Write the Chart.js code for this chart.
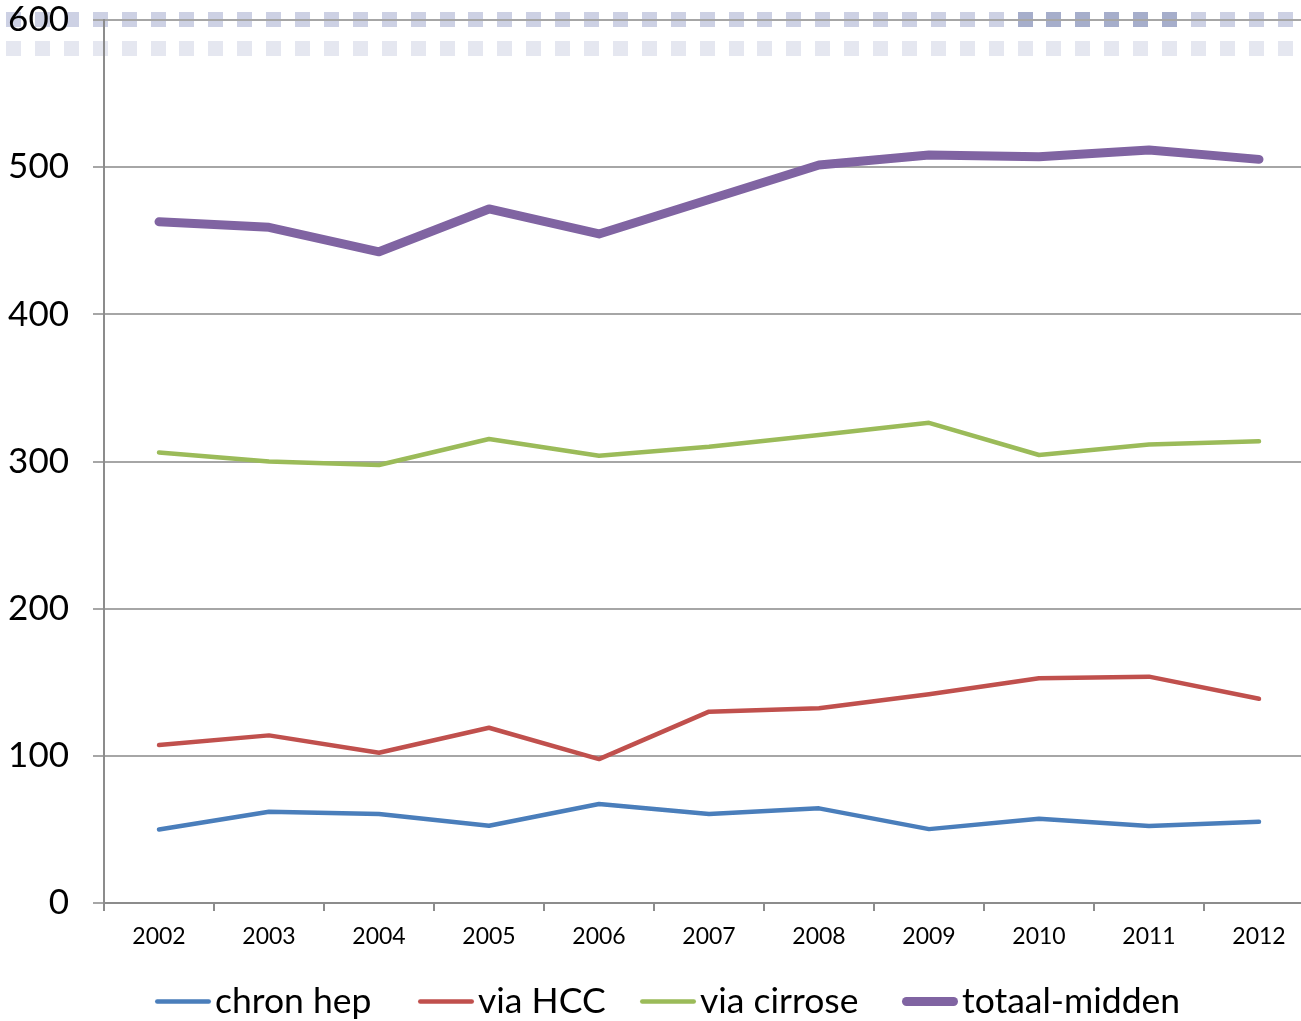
<!DOCTYPE html>
<html>
<head>
<meta charset="utf-8">
<script src="https://cdn.jsdelivr.net/npm/chart.js@4.4.1/dist/chart.umd.min.js"></script>
<style>
  html, body { margin: 0; padding: 0; background: #ffffff; overflow: hidden; }
  #wrap { position: absolute; left: 0; top: 0; width: 1314px; height: 1021px; }
</style>
</head>
<body>
<div id="wrap"><canvas id="c" width="1314" height="1021"></canvas></div>
<script>
const categories = ['2002','2003','2004','2005','2006','2007','2008','2009','2010','2011','2012'];
const chronHep   = [50, 62, 60.4, 52.5, 67.3, 60.4, 64.3, 50.2, 57.3, 52.3, 55.2];
const viaHCC     = [107.4, 113.9, 102.1, 119.1, 97.8, 130, 132.3, 141.8, 152.7, 153.8, 138.8];
const viaCirrose = [306.1, 300, 297.6, 315.3, 303.9, 310, 318, 326.3, 304.4, 311.6, 313.7];
const totaal     = [462.9, 459.1, 442.5, 471.6, 454.6, 478, 501.5, 508.3, 507.1, 511.7, 505.3];
const seriesNames = ['chron hep', 'via HCC', 'via cirrose', 'totaal-midden'];
const yTicks = [0, 100, 200, 300, 400, 500, 600];

const FONT = 'Lato, "Open Sans", sans-serif';
const legendStarts = [155, 418, 640, 902];

const topDecoration = {
  id: 'topDecoration',
  beforeDraw(chart) {
    const ctx = chart.ctx;
    ctx.save();
    for (let i = 0; i < 46; i++) {
      const x = 6 + i * 28.9;
      if (x > 1301) break;
      ctx.fillStyle = (i >= 35 && i <= 40) ? '#a6aecb' : '#cdd1e4';
      ctx.fillRect(Math.round(x), 12, 15, 15);
      ctx.fillStyle = '#e5e7f0';
      ctx.fillRect(Math.round(x), 41, 15, 15);
    }
    ctx.restore();
  }
};

const customLegend = {
  id: 'customLegend',
  afterDraw(chart) {
    const ctx = chart.ctx;
    ctx.save();
    ctx.font = '35.5px ' + FONT;
    ctx.textBaseline = 'alphabetic';
    ctx.textAlign = 'left';
    const yLine = 1001.5;
    chart.data.datasets.forEach((ds, i) => {
      const x = legendStarts[i];
      ctx.strokeStyle = ds.borderColor;
      ctx.lineWidth = ds.borderWidth;
      ctx.lineCap = 'round';
      ctx.beginPath();
      ctx.moveTo(x + ds.borderWidth / 2, yLine);
      ctx.lineTo(x + 56 - ds.borderWidth / 2, yLine);
      ctx.stroke();
      ctx.fillStyle = '#000000';
      ctx.fillText(ds.label, x + 60, 1013);
    });
    ctx.restore();
  }
};

new Chart(document.getElementById('c'), {
  type: 'line',
  data: {
    labels: categories,
    datasets: [
      { label: seriesNames[0], data: chronHep,   borderColor: '#4a7ebb', borderWidth: 4.5 },
      { label: seriesNames[1], data: viaHCC,     borderColor: '#c0504d', borderWidth: 4.5 },
      { label: seriesNames[2], data: viaCirrose, borderColor: '#9bbb59', borderWidth: 4.5 },
      { label: seriesNames[3], data: totaal,     borderColor: '#8064a2', borderWidth: 9 }
    ].map(d => Object.assign(d, {
      pointRadius: 0, pointHoverRadius: 0, tension: 0, fill: false,
      borderCapStyle: 'round', borderJoinStyle: 'round'
    }))
  },
  options: {
    responsive: false,
    maintainAspectRatio: false,
    devicePixelRatio: 1,
    animation: false,
    layout: { padding: { top: 20, left: 0, right: 0, bottom: 0 } },
    plugins: {
      legend: { display: false },
      tooltip: { enabled: false },
      title: { display: false }
    },
    scales: {
      x: {
        type: 'category',
        offset: true,
        grid: { offset: true, drawOnChartArea: false, drawTicks: true, tickLength: 8, color: '#8c8c8c', lineWidth: 2 },
        border: { display: true, color: '#8c8c8c', width: 2 },
        ticks: { color: '#000000', font: { family: FONT, size: 23 }, padding: 12, maxRotation: 0, autoSkip: false },
        afterFit(scale) { scale.height = 118; scale.paddingLeft = 0; scale.paddingRight = 0; }
      },
      y: {
        min: 0, max: 600,
        afterBuildTicks(scale) { scale.ticks = yTicks.map(v => ({ value: v })); },
        grid: { color: '#a6a6a6', lineWidth: 2, tickLength: 11, drawTicks: true },
        border: { display: true, color: '#8c8c8c', width: 2 },
        ticks: { color: '#000000', font: { family: FONT, size: 35, lineHeight: 1 }, padding: 24 },
        afterFit(scale) { scale.width = 104; scale.paddingTop = 0; scale.paddingBottom = 0; }
      }
    }
  },
  plugins: [topDecoration, customLegend]
});
</script>
</body>
</html>
